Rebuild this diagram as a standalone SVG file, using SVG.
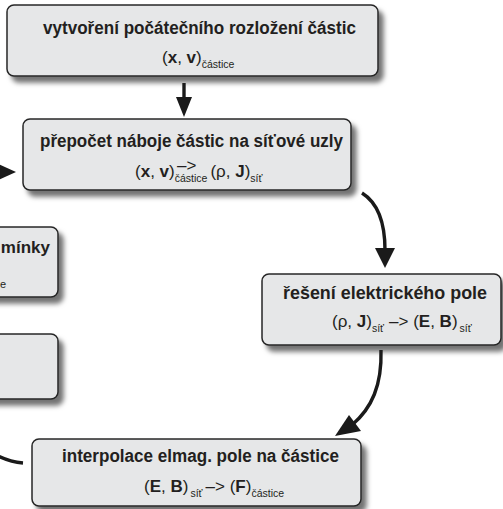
<svg xmlns="http://www.w3.org/2000/svg" width="503" height="509" viewBox="0 0 503 509">
  <defs>
    <filter id="drop" x="-10%" y="-20%" width="125%" height="160%">
      <feGaussianBlur in="SourceAlpha" stdDeviation="2.6"/>
      <feOffset dx="5" dy="6" result="blur"/>
      <feFlood flood-color="#000" flood-opacity="0.55"/>
      <feComposite in2="blur" operator="in" result="shadow"/>
      <feMerge>
        <feMergeNode in="shadow"/>
        <feMergeNode in="SourceGraphic"/>
      </feMerge>
    </filter>
  </defs>
  <style>
    .box { fill: #e6e7e8; stroke: #262626; stroke-width: 1.5; filter: url(#drop); }
    .title { font-family: "Liberation Sans", Arial, sans-serif; font-weight: bold; font-size: 18px; fill: #231f20; }
    .eq { font-family: "Liberation Sans", Arial, sans-serif; font-size: 17px; fill: #231f20; }
    .b { font-weight: bold; }
    .sub { font-size: 10.5px; }
    .note { font-family: "Liberation Sans", Arial, sans-serif; font-size: 11px; fill: #231f20; }
    .conn { fill: none; stroke: #1a1a1a; stroke-width: 3.4; }
    .head { fill: #1a1a1a; }
  </style>
  <rect width="503" height="509" fill="#ffffff"/>

  <!-- partially visible side boxes on the left -->
  <g id="node-boundary">
    <rect class="box" x="-30" y="227" width="88" height="70" rx="7"/>
    <text class="title" x="50" y="253" text-anchor="end" style="font-size:17px">mínky</text>
    <text class="note" x="0" y="288">e</text>
  </g>
  <g id="node-left-lower">
    <rect class="box" x="-30" y="334" width="88" height="65" rx="7"/>
  </g>

  <!-- main loop -->
  <g id="node-init">
    <rect class="box" x="7" y="5" width="371" height="71" rx="7"/>
    <text class="title" x="199.5" y="33.5" text-anchor="middle" textLength="313" lengthAdjust="spacingAndGlyphs">vytvoření počátečního rozložení částic</text>
    <text class="eq" x="162" y="63">(<tspan class="b">x</tspan>, <tspan class="b">v</tspan>)<tspan class="sub" dy="4.5">částice</tspan></text>
  </g>

  <g id="node-deposit">
    <rect class="box" x="23" y="119" width="328" height="71" rx="7"/>
    <text class="title" x="191.5" y="147" text-anchor="middle" textLength="303" lengthAdjust="spacingAndGlyphs">přepočet náboje částic na síťové uzly</text>
    <text class="eq" x="135" y="176.5">(<tspan class="b">x</tspan>, <tspan class="b">v</tspan>)<tspan class="sub" dy="5.5">částice</tspan><tspan dx="3" dy="-5.5">(ρ, </tspan><tspan class="b">J</tspan>)<tspan class="sub" dy="5">síť</tspan></text>
    <text class="eq" x="177" y="170.5">–&gt;</text>
  </g>

  <g id="node-field">
    <rect class="box" x="262" y="274" width="239" height="71" rx="7"/>
    <text class="title" x="385" y="298.5" text-anchor="middle" textLength="204" lengthAdjust="spacingAndGlyphs">řešení elektrického pole</text>
    <text class="eq" x="332" y="327">(ρ, <tspan class="b">J</tspan>)<tspan class="sub" dy="5">síť</tspan><tspan dx="5" dy="-5">–&gt; (</tspan><tspan class="b">E</tspan>, <tspan class="b">B</tspan>)<tspan class="sub" dy="5" dx="2">síť</tspan></text>
  </g>

  <g id="node-interp">
    <rect class="box" x="32" y="439" width="329" height="67" rx="7"/>
    <text class="title" x="200.5" y="462" text-anchor="middle" textLength="277" lengthAdjust="spacingAndGlyphs">interpolace elmag. pole na částice</text>
    <text class="eq" x="144" y="492">(<tspan class="b">E</tspan>, <tspan class="b">B</tspan>)<tspan class="sub" dy="5" dx="2">síť</tspan><tspan dx="3" dy="-5">–&gt; (</tspan><tspan class="b">F</tspan>)<tspan class="sub" dy="5">částice</tspan></text>
  </g>

  <g id="connectors">
    <path class="conn" d="M184 83 V99"/>
    <polygon class="head" points="176,97 192,97 184,117"/>

    <path class="conn" d="M362 193 C378 203 385 222 385 250"/>
    <polygon class="head" points="375,248 395,248 385,268"/>

    <path class="conn" d="M381 350 C382 385 372 408 352 425"/>
    <polygon class="head" points="349,415 361,431 335,436"/>

    <path class="conn" d="M-2 456 Q10 462 23 463"/>

    <polygon class="head" points="-4,163 -4,181 16,172"/>
  </g>
</svg>
